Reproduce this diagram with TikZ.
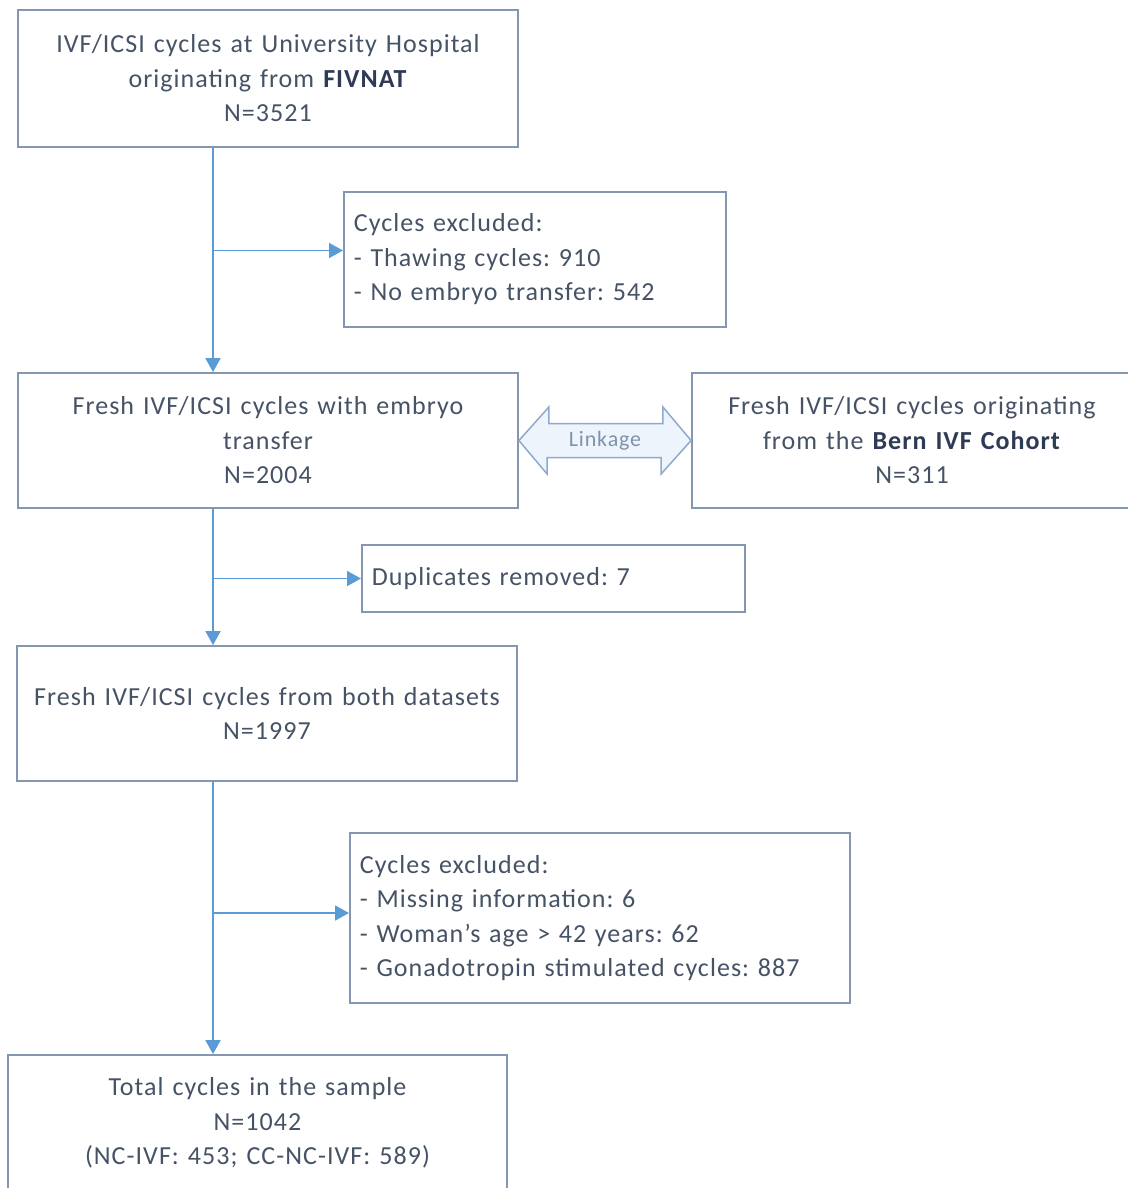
\documentclass[tikz,border=0pt]{standalone}
\usepackage{fontspec}
\setmainfont[LetterSpace=4,WordSpace=1.3]{Carlito}
\usetikzlibrary{arrows.meta,calc}
\definecolor{txt}{HTML}{465366}
\definecolor{bold}{HTML}{2E3B55}
\definecolor{bord}{HTML}{8496B0}
\definecolor{arr}{HTML}{5B9BD5}
\definecolor{linkfill}{HTML}{EEF4FB}
\definecolor{linkline}{HTML}{8FAACC}
\definecolor{linktxt}{HTML}{7F93AD}
\frenchspacing
\begin{document}
\begin{tikzpicture}[x=1pt,y=-1pt,
 box/.style={draw=bord, line width=1.8pt, text=txt, font=\fontsize{26}{34.5}\selectfont, inner sep=0pt},
 cbox/.style={box, align=center},
 lbox/.style={box, align=left, inner xsep=10pt},
 flow/.style={draw=arr, line width=1.8pt, -{Triangle[width=15pt,length=14pt]}}
]
\useasboundingbox[fill=white] (0,0) rectangle (1127,1188);

\node[cbox, minimum width=500pt, minimum height=137pt] (top) at (268,78.5)
  {IVF/ICSI cycles at University Hospital\\originating from \textcolor{bold}{\textbf{FIVNAT}}\\N=3521};
\node[lbox, text width=362pt, minimum height=135pt, anchor=west] (ex1) at (343,259.5)
  {Cycles excluded:\\- Thawing cycles: 910\\- No embryo transfer: 542};
\node[cbox, minimum width=500pt, minimum height=135pt] (fresh) at (268,440.5)
  {Fresh IVF/ICSI cycles with embryo\\transfer\\N=2004};
\node[cbox, minimum width=440pt, minimum height=135pt] (bern) at (912,440.5)
  {Fresh IVF/ICSI cycles originating\\from the \textcolor{bold}{\textbf{Bern IVF Cohort}}\\N=311};
\node[lbox, text width=363pt, minimum height=67pt, anchor=west] (dup) at (361,578.5)
  {Duplicates removed: 7};
\node[cbox, minimum width=500pt, minimum height=135pt] (both) at (267,713.5)
  {Fresh IVF/ICSI cycles from both datasets\\N=1997};
\node[lbox, text width=480pt, minimum height=170pt, anchor=west] (ex2) at (349,918)
  {Cycles excluded:\\- Missing information: 6\\- Woman’s age > 42 years: 62\\- Gonadotropin stimulated cycles: 887};
\node[cbox, minimum width=499pt, minimum height=136pt] (total) at (257.5,1123)
  {Total cycles in the sample\\N=1042\\(NC-IVF: 453; CC-NC-IVF: 589)};

\coordinate (trunk) at (213,0);
\coordinate (e1) at ($(ex1.west)+(0,-9)$);
\coordinate (e2) at ($(ex2.west)+(0,-5)$);

\draw[flow] (trunk |- top.south) -- (trunk |- fresh.north);
\draw[flow] (trunk |- e1) -- (e1);
\draw[flow] (trunk |- fresh.south) -- (trunk |- both.north);
\draw[flow] (trunk |- dup.west) -- (dup.west);
\draw[flow] (trunk |- both.south) -- (trunk |- total.north);
\draw[flow] (trunk |- e2) -- (e2);

\draw[draw=linkline, fill=linkfill, line width=1.5pt, line join=miter]
  (fresh.east) -- ++(30,-33.5) -- ++(0,16.5) -- ++(114,0) -- ++(0,-16.5)
  -- (bern.west) -- ++(-30,33.5) -- ++(0,-16.5) -- ++(-114,0) -- ++(0,16.5) -- cycle;
\node[text=linktxt, font=\fontsize{22}{24}\selectfont, inner sep=0pt] (lk)
  at ($(fresh.east)!0.5!(bern.west)$) {Linkage};
\end{tikzpicture}
\end{document}
